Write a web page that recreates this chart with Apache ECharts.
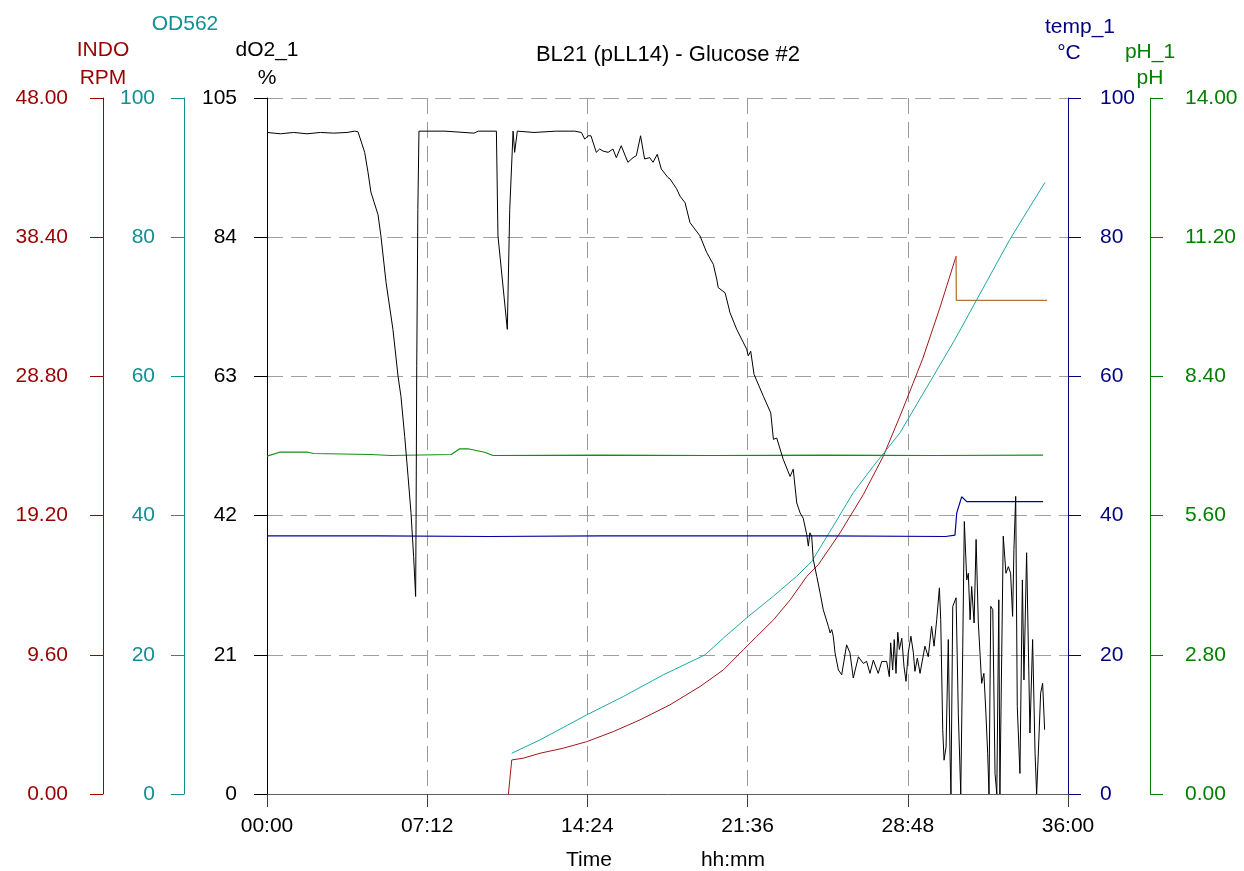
<!DOCTYPE html>
<html>
<head>
<meta charset="utf-8">
<script src="https://cdn.jsdelivr.net/npm/echarts@6/dist/echarts.min.js"></script>
<style>
  html, body { margin: 0; padding: 0; background: #fff; }
  #chart { width: 1244px; height: 871px; }
</style>
</head>
<body>
<div id="chart"></div>
<script>
// time in hours
const xTicks = [0, 7.2, 14.4, 21.6, 28.8, 36];

const dO2 = [
  [0, 99.8], [0.6, 99.6], [1.2, 99.8], [1.8, 99.6], [2.4, 99.8], [3.0, 99.7], [3.6, 99.8], [3.94, 100],
  [4.09, 99.9], [4.39, 96.8], [4.54, 93.8], [4.67, 90.8], [4.99, 87.4], [5.12, 84.2], [5.35, 77.2],
  [5.66, 70.1], [5.89, 63.0], [6.02, 60.0], [6.19, 53.9], [6.34, 47.9], [6.47, 42.5], [6.59, 35.8],
  [6.68, 29.8], [6.70, 41.4], [6.73, 64.6], [6.78, 88.2], [6.83, 100],
  [8.0, 100], [9.3, 99.7], [9.5, 100], [10.31, 100], [10.38, 84.2], [10.53, 79.2], [10.80, 70.1],
  [10.91, 88.2], [11.06, 100], [11.13, 96.8], [11.25, 100], [12.0, 99.8], [13.0, 100], [13.83, 100],
  [14.13, 99.8], [14.28, 98.8], [14.43, 99.3], [14.56, 99.3], [14.80, 96.8], [14.95, 97.3], [15.10, 97.0],
  [15.33, 96.8], [15.55, 97.3], [15.70, 96.0], [15.92, 97.8], [16.22, 95.3], [16.45, 96.0], [16.60, 96.3],
  [16.79, 99.3], [16.97, 95.8], [17.20, 96.0], [17.35, 95.3], [17.54, 96.5], [17.72, 94.3], [18.02, 93.0],
  [18.11, 92.8], [18.41, 91.3], [18.56, 90.2], [18.79, 89.2], [19.01, 86.2], [19.46, 84.2], [19.76, 81.7],
  [20.06, 79.9], [20.21, 77.7], [20.28, 76.4], [20.59, 75.6], [20.81, 72.6], [21.11, 70.1], [21.56, 67.1],
  [21.63, 66.1], [21.74, 66.8], [21.89, 63.3], [22.31, 60.0], [22.64, 57.5], [22.76, 53.5], [22.91, 53.7],
  [23.20, 50.5], [23.51, 47.9], [23.65, 49.0], [23.81, 43.9], [23.96, 42.4], [24.10, 41.6], [24.26, 39.1],
  [24.33, 37.4], [24.40, 39.4], [24.48, 38.9], [24.55, 35.4], [24.71, 32.8], [24.86, 30.3], [25.00, 27.8],
  [25.23, 25.3], [25.31, 24.3], [25.38, 24.8], [25.45, 23.8], [25.53, 21.3], [25.68, 18.7], [25.83, 18.0],
  [26.05, 22.5], [26.20, 21.3], [26.35, 17.5], [26.58, 20.7], [26.80, 19.7], [26.95, 20.0], [27.10, 18.2],
  [27.25, 20.2], [27.47, 18.2], [27.63, 20.0], [27.85, 20.0], [27.97, 17.7], [28.03, 22.8], [28.12, 18.7],
  [28.19, 23.3], [28.27, 18.2], [28.35, 24.4], [28.42, 21.8], [28.53, 23.5], [28.63, 19.2], [28.72, 17.0],
  [28.82, 21.3], [28.94, 23.8], [29.05, 21.3], [29.12, 18.5], [29.23, 20.5], [29.35, 18.2], [29.57, 22.3],
  [29.72, 20.7], [29.87, 25.3], [29.98, 22.3], [30.10, 26.3], [30.22, 31.1], [30.28, 26.3], [30.37, 9.7],
  [30.43, 5.1], [30.52, 7.1], [30.62, 23.3], [30.70, 5.6], [30.74, 0], [30.82, 28.3], [30.97, 29.6],
  [31.07, 12.2], [31.18, 0], [31.27, 22.3], [31.34, 41.1], [31.45, 32.3], [31.52, 33.3], [31.60, 26.3],
  [31.67, 31.3], [31.78, 25.8], [31.87, 38.4], [31.97, 25.8], [32.12, 16.7], [32.22, 18.2], [32.31, 12.2],
  [32.39, 6.1], [32.45, 0], [32.53, 28.3], [32.62, 27.8], [32.72, 3.1], [32.80, 0], [32.89, 29.3],
  [32.94, 0], [33.02, 0], [33.09, 38.9], [33.21, 33.3], [33.32, 34.3], [33.42, 33.3], [33.51, 26.8],
  [33.57, 36.9], [33.65, 44.9], [33.72, 13.2], [33.84, 3.1], [33.95, 32.3], [34.02, 17.2], [34.14, 36.4],
  [34.29, 9.2], [34.41, 23.3], [34.52, 6.1], [34.59, 0], [34.66, 5.6], [34.77, 15.2], [34.86, 16.7], [34.95, 9.7]
];

const indo = [
  [10.85, 0], [11.0, 2.35], [11.52, 2.47], [12.27, 2.81], [13.32, 3.16], [14.37, 3.61], [15.56, 4.30],
  [16.76, 5.11], [18.11, 6.15], [19.46, 7.41], [20.51, 8.56], [21.41, 9.95], [22.01, 10.87], [22.77, 12.02],
  [23.52, 13.40], [24.26, 15.01], [24.78, 15.82], [25.75, 18.0], [26.80, 20.65], [27.70, 23.3],
  [28.45, 26.06], [29.03, 28.3], [29.48, 30.06], [30.25, 33.57], [30.97, 37.09]
];

const rpm = [[30.97, 37.09], [30.98, 34.05], [35.06, 34.05]];

const od562 = [
  [11.0, 5.86], [12.27, 7.77], [14.37, 11.37], [16.01, 14.0], [17.81, 17.12], [19.69, 20.0],
  [20.51, 22.4], [21.63, 25.5], [22.75, 28.4], [23.81, 31.3], [24.48, 33.4], [25.45, 38.5],
  [26.35, 43.3], [27.25, 47.1], [28.45, 51.9], [30.9, 65.2], [33.39, 79.7], [34.97, 87.9]
];

const temp = [
  [0, 37.1], [5, 37.1], [10, 37.0], [15, 37.1], [20, 37.1], [25, 37.1], [30.5, 37.0], [30.92, 37.2],
  [31.0, 40.4], [31.22, 42.7], [31.45, 42.0], [33.0, 42.0], [34.88, 42.0]
];

const pH = [
  [0, 6.795], [0.57, 6.875], [1.84, 6.875], [2.1, 6.849], [4.67, 6.829], [5.57, 6.809], [8.28, 6.829],
  [8.66, 6.944], [9.03, 6.944], [9.78, 6.875], [10.16, 6.809], [15, 6.815], [20, 6.809], [25, 6.815],
  [30, 6.809], [34.88, 6.815]
];

const C_INDO = '#990000', C_OD = '#109090', C_DO = '#000000', C_TEMP = '#000080', C_PH = '#008000';
const FONT = 'Liberation Sans, Arial, sans-serif';

function hhmm(v) {
  const total = Math.round(v * 60);
  const h = Math.floor(total / 60), m = total % 60;
  return String(h).padStart(2, '0') + ':' + String(m).padStart(2, '0');
}

function yAx(opt) {
  return Object.assign({
    type: 'value', min: 0,
    axisLine: { show: true, onZero: false, lineStyle: { color: opt.color, width: 1 } },
    axisTick: { show: true, length: 13, lineStyle: { color: opt.color } },
    axisLabel: { color: opt.color, fontSize: 21, fontFamily: FONT, margin: opt.margin },
    splitLine: { show: false }
  }, opt.extra);
}

const chart = echarts.init(document.getElementById('chart'));
chart.setOption({
  animation: false,
  backgroundColor: '#fff',
  grid: { left: 267, right: 176, top: 98, bottom: 77, containLabel: false },
  xAxis: {
    type: 'value', min: 0, max: 36, interval: 7.2,
    axisLine: { show: true, lineStyle: { color: '#606060' } },
    axisTick: { show: true, length: 13, lineStyle: { color: '#404040' } },
    axisLabel: { color: '#000', fontSize: 21, fontFamily: FONT, margin: 22, formatter: hhmm },
    splitLine: { show: true, lineStyle: { color: '#999', type: [16, 8], width: 1 } }
  },
  yAxis: [
    yAx({ color: C_INDO, margin: 35, extra: { max: 48, interval: 9.6, offset: 164, position: 'left',
      axisLabel: { color: C_INDO, fontSize: 21, fontFamily: FONT, margin: 35, formatter: v => v.toFixed(2) } } }),
    yAx({ color: C_OD, margin: 29, extra: { max: 100, interval: 20, offset: 83, position: 'left' } }),
    yAx({ color: C_DO, margin: 30, extra: { max: 105, interval: 21, offset: 0, position: 'left',
      splitLine: { show: true, lineStyle: { color: '#a0a0a0', type: [16, 8], width: 1 } } } }),
    yAx({ color: C_TEMP, margin: 32, extra: { max: 100, interval: 20, offset: 0, position: 'right' } }),
    yAx({ color: C_PH, margin: 35, extra: { max: 14, interval: 2.8, offset: 82, position: 'right',
      axisLabel: { color: C_PH, fontSize: 21, fontFamily: FONT, margin: 35, formatter: v => v.toFixed(2) } } })
  ],
  graphic: [
    { type: 'text', style: { text: 'BL21 (pLL14) - Glucose #2', x: 668, y: 55, fill: '#000', font: '22px ' + FONT, align: 'center', verticalAlign: 'middle' } },
    { type: 'text', style: { text: 'OD562', x: 185, y: 24, fill: C_OD, font: '21px ' + FONT, align: 'center', verticalAlign: 'middle' } },
    { type: 'text', style: { text: 'INDO', x: 103, y: 50, fill: C_INDO, font: '21px ' + FONT, align: 'center', verticalAlign: 'middle' } },
    { type: 'text', style: { text: 'RPM', x: 103, y: 78, fill: C_INDO, font: '21px ' + FONT, align: 'center', verticalAlign: 'middle' } },
    { type: 'text', style: { text: 'dO2_1', x: 267, y: 50, fill: C_DO, font: '21px ' + FONT, align: 'center', verticalAlign: 'middle' } },
    { type: 'text', style: { text: '%', x: 267, y: 78, fill: C_DO, font: '21px ' + FONT, align: 'center', verticalAlign: 'middle' } },
    { type: 'text', style: { text: 'temp_1', x: 1080, y: 27, fill: C_TEMP, font: '21px ' + FONT, align: 'center', verticalAlign: 'middle' } },
    { type: 'text', style: { text: '°C', x: 1069, y: 53, fill: C_TEMP, font: '21px ' + FONT, align: 'center', verticalAlign: 'middle' } },
    { type: 'text', style: { text: 'pH_1', x: 1150, y: 52, fill: C_PH, font: '21px ' + FONT, align: 'center', verticalAlign: 'middle' } },
    { type: 'text', style: { text: 'pH', x: 1150, y: 78, fill: C_PH, font: '21px ' + FONT, align: 'center', verticalAlign: 'middle' } },
    { type: 'text', style: { text: 'Time', x: 589, y: 860, fill: '#000', font: '21px ' + FONT, align: 'center', verticalAlign: 'middle' } },
    { type: 'text', style: { text: 'hh:mm', x: 733, y: 860, fill: '#000', font: '21px ' + FONT, align: 'center', verticalAlign: 'middle' } }
  ],
  series: [
    { name: 'INDO', type: 'line', yAxisIndex: 0, data: indo, showSymbol: false, lineStyle: { color: '#a01818', width: 1 } },
    { name: 'RPM', type: 'line', yAxisIndex: 0, data: rpm, showSymbol: false, lineStyle: { color: '#b87333', width: 1.3 } },
    { name: 'OD562', type: 'line', yAxisIndex: 1, data: od562, showSymbol: false, lineStyle: { color: '#20a8a8', width: 1 } },
    { name: 'temp_1', type: 'line', yAxisIndex: 3, data: temp, showSymbol: false, lineStyle: { color: '#0000a0', width: 1.2 } },
    { name: 'pH_1', type: 'line', yAxisIndex: 4, data: pH, showSymbol: false, lineStyle: { color: '#109010', width: 1.2 } },
    { name: 'dO2_1', type: 'line', yAxisIndex: 2, data: dO2, showSymbol: false, clip: false, lineStyle: { color: '#000', width: 1 } }
  ]
});
</script>
</body>
</html>
